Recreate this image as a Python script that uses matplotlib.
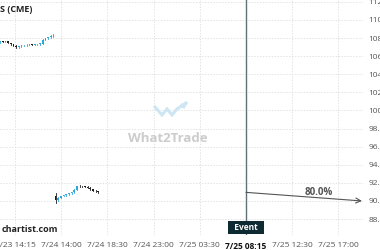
import matplotlib
matplotlib.use("Agg")
import matplotlib.pyplot as plt
import matplotlib.transforms as mtransforms
from matplotlib.patches import Rectangle

plt.rcParams['font.family'] = ['Open Sans', 'DejaVu Sans']

# ---- data ----
tick_pos = [0, 4.5, 9, 13.5, 18, 22.5, 27, 31.5]
tick_labels = ["7/23 14:15", "7/24 14:00", "7/24 18:30", "7/24 23:00",
               "7/25 03:30", "7/25 08:15", "7/25 12:30", "7/25 17:00"]
y_ticks = [88, 90, 92, 94, 96, 98, 100, 102, 104, 106, 108, 110, 112]
event_pos = 22.5
event_label = "Event"
forecast_start = 90.95
forecast_end = 90.0
forecast_end_pos = 33.8
forecast_prob = "80.0%"

# cluster 1 (earlier session)
c1_start = -1.45
c1_open  = [107.55, 107.60, 107.58, 107.62, 107.45, 107.30, 107.15, 107.00, 107.10, 107.18,
            107.20, 107.28, 107.30, 107.28, 107.30, 107.32, 107.35, 107.80, 107.95, 108.10, 108.20]
c1_close = [107.60, 107.58, 107.62, 107.45, 107.30, 107.15, 107.00, 107.10, 107.18, 107.20,
            107.28, 107.30, 107.28, 107.30, 107.32, 107.35, 107.80, 107.95, 108.10, 108.20, 108.30]
c1_high  = [107.65, 107.66, 107.68, 107.66, 107.50, 107.35, 107.20, 107.15, 107.22, 107.25,
            107.32, 107.34, 107.34, 107.34, 107.36, 107.40, 107.85, 108.00, 108.15, 108.30, 108.40]
c1_low   = [107.50, 107.52, 107.54, 107.40, 107.25, 107.10, 106.85, 106.95, 107.05, 107.12,
            107.16, 107.24, 107.24, 107.25, 107.27, 107.28, 107.30, 107.75, 107.90, 108.05, 108.15]

# cluster 2 (later session)
c2_start = 3.95
c2_open  = [90.55, 90.15, 90.35, 90.55, 90.65, 90.75, 90.85, 90.95, 91.25, 91.65,
            91.62, 91.60, 91.58, 91.45, 91.30, 91.15, 91.05]
c2_close = [90.15, 90.35, 90.55, 90.65, 90.75, 90.85, 90.95, 91.25, 91.65, 91.62,
            91.60, 91.58, 91.45, 91.30, 91.15, 91.05, 90.95]
c2_high  = [90.90, 90.45, 90.60, 90.70, 90.80, 90.90, 91.00, 91.30, 91.70, 91.72,
            91.68, 91.65, 91.62, 91.50, 91.35, 91.20, 91.10]
c2_low   = [89.80, 90.05, 90.30, 90.50, 90.60, 90.70, 90.80, 90.90, 91.20, 91.55,
            91.55, 91.52, 91.40, 91.25, 91.10, 90.95, 90.85]
bar_step = 0.26

UP = "#2ba6de"
DOWN = "#1c1c1c"
GRID = "#e3e3e3"
LABEL = "#555555"

fig = plt.figure(figsize=(3.8, 2.5), dpi=100)
fig.patch.set_facecolor("white")
ax = fig.add_axes([0, 15/250, 363/380, 235/250])
ax.set_facecolor("white")
ax.set_xlim(-1.46, 33.9)
ax.set_ylim(86.24, 112.2)

for s in ax.spines.values():
    s.set_visible(False)

ax.set_xticks(tick_pos)
ax.set_xticklabels(tick_labels)
ax.set_yticks(y_ticks)
ax.set_yticklabels([f"{v:.2f}" for v in y_ticks])
ax.yaxis.tick_right()
ax.tick_params(axis='both', length=0, labelsize=6, labelcolor=LABEL)
ax.tick_params(axis='y', pad=4)
ax.tick_params(axis='x', pad=5)
for lbl, txt in zip(ax.get_xticklabels(), tick_labels):
    if txt == tick_labels[tick_pos.index(event_pos)]:
        lbl.set_fontweight('bold')
        lbl.set_color('#111111')
ax.grid(True, color=GRID, linestyle=(0, (1.5, 1.5)), linewidth=0.7)
ax.set_axisbelow(True)


def draw_candles(start, o, h, l, c):
    w = 0.16
    for i in range(len(o)):
        x = start + i * bar_step
        col = UP if c[i] >= o[i] else DOWN
        ax.plot([x, x], [l[i], h[i]], color=col, lw=0.6, zorder=3)
        lo = min(o[i], c[i])
        hgt = max(abs(c[i] - o[i]), 0.08)
        ax.add_patch(Rectangle((x - w / 2, lo), w, hgt, color=col, zorder=4, lw=0))


draw_candles(c1_start, c1_open, c1_high, c1_low, c1_close)
draw_candles(c2_start, c2_open, c2_high, c2_low, c2_close)

# event line
ax.axvline(event_pos, color="#5d7177", lw=1.0, zorder=5)
trans = mtransforms.blended_transform_factory(ax.transData, ax.transAxes)
ax.text(event_pos, 0.012, "  " + event_label + "  ", transform=trans, ha='center', va='bottom',
        fontsize=6, color='white', fontweight='bold', zorder=7,
        bbox=dict(boxstyle='square,pad=0.25', fc='#0e2b31', ec='none'))

# forecast arrow
ax.annotate("", xy=(forecast_end_pos, forecast_end), xytext=(event_pos, forecast_start),
            arrowprops=dict(arrowstyle='->', color='#555555', lw=0.8,
                            shrinkA=0, shrinkB=0, mutation_scale=9), zorder=6)
ax.text(29.6, 90.92, forecast_prob, ha='center', va='center', fontsize=7,
        color='#555555', fontweight='bold', zorder=6)

# watermark
ax.text(0.463, 0.41, "What2Trade", transform=ax.transAxes, ha='center', va='center',
        fontsize=9.5, fontweight='bold', color='#cccccc', zorder=1)
logo_x = [155/363, 162/363, 167/363, 172/363, 177/363, 186/363]
logo_y = [1 - 107/235, 1 - 115/235, 1 - 109/235, 1 - 115/235, 1 - 109/235, 1 - 103/235]
ax.plot(logo_x, logo_y, transform=ax.transAxes, color='#cde6f4', lw=2.2, zorder=1,
        solid_joinstyle='miter')
ax.annotate("", xy=(190/363, 1 - 101/235), xytext=(183/363, 1 - 106/235),
            xycoords='axes fraction', textcoords='axes fraction',
            arrowprops=dict(arrowstyle='-|>', color='#cde6f4', lw=1.5, mutation_scale=7))

# corner texts
fig.text(0.0, 1 - 10/250, "S (CME)", ha='left', va='center', fontsize=6.5,
         fontweight='bold', color='#222222')
fig.text(0.005, 1 - 229/250, "chartist.com", ha='left', va='center', fontsize=6.5,
         fontweight='bold', color='#222222')

fig.savefig("out.png", dpi=100, facecolor="white")
